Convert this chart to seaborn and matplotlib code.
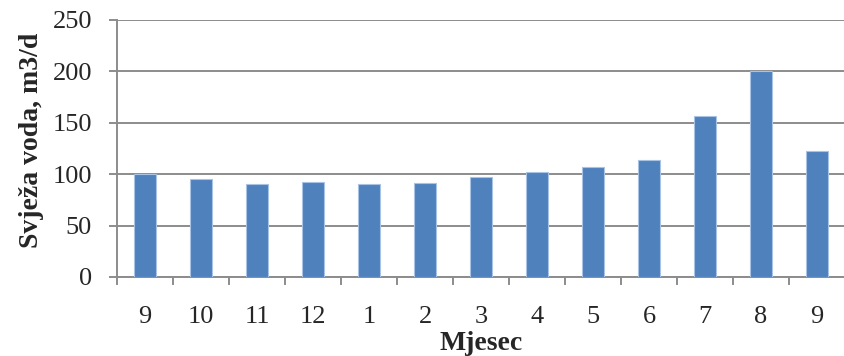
import seaborn as sns
import matplotlib.pyplot as plt
import numpy as np
import pandas as pd

# Monthly fresh water use
months = ['9', '10', '11', '12', '1', '2', '3', '4', '5', '6', '7', '8', '9']
values = [100, 95, 90, 92, 90, 91, 97, 102, 107, 114, 157, 200, 123]

df = pd.DataFrame({'pos': np.arange(len(months)), 'val': values})

sns.set_style('white')
plt.rcParams['font.family'] = ['Liberation Serif', 'DejaVu Serif']

fig = plt.figure(figsize=(8.45, 3.56), dpi=100)
ax = fig.add_axes([0.1385, 0.222, 0.8615, 0.722])

sns.barplot(data=df, x='pos', y='val', color='#4F81BD', width=0.4,
            edgecolor='#A9C3E4', linewidth=0.8, saturation=1, ax=ax, zorder=3)

ax.set_ylim(0, 250)
ax.set_yticks(np.arange(0, 251, 50))
ax.set_xlim(-0.5, len(months) - 0.5)
ax.yaxis.grid(True, color='#8c8c8c', linewidth=1.4, zorder=0)
ax.set_axisbelow(True)

# ticks at category boundaries, labels at centres
ax.set_xticks(np.arange(-0.5, len(months), 1.0))
ax.set_xticklabels([])
ax.set_xticks(np.arange(len(months)), minor=True)
ax.set_xticklabels(months, minor=True, fontsize=19)
ax.tick_params(axis='x', which='major', direction='out', length=6, width=1.4, color='#8c8c8c', bottom=True)
ax.tick_params(axis='x', which='minor', length=0, pad=21)
ax.tick_params(axis='y', direction='out', length=6, width=1.4, color='#8c8c8c', left=True, labelsize=19, pad=12)

for s in ['top', 'right']:
    ax.spines[s].set_visible(False)
for s in ['left', 'bottom']:
    ax.spines[s].set_color('#8c8c8c')
    ax.spines[s].set_linewidth(1.4)

ax.set_xlabel('Mjesec', fontsize=20, fontweight='bold')
ax.xaxis.set_label_coords(0.5, -0.212)
ax.set_ylabel('Svježa voda, m3/d', fontsize=20, fontweight='bold')
ax.yaxis.set_label_coords(-0.1, 0.533)

fig.savefig('out.png', dpi=100)
